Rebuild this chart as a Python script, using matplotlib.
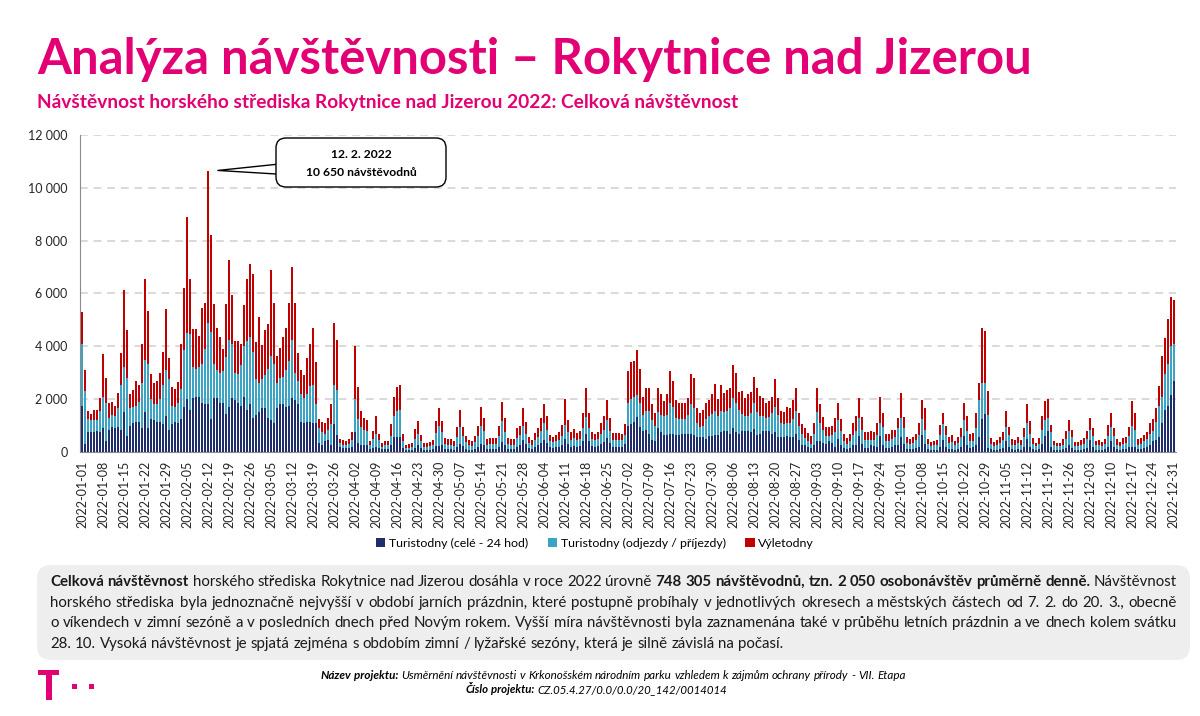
import matplotlib
matplotlib.use("Agg")
import matplotlib.pyplot as plt
import numpy as np
import pandas as pd
from matplotlib.patches import FancyBboxPatch, Rectangle
from matplotlib.ticker import FuncFormatter
from matplotlib.transforms import IdentityTransform

# denni navstevnost 2022, po mesicich: turistodny 24 h / turistodny odjezdy-prijezdy / vyletodny
d_jan = [1750,300,750,750,750,800,750,900,400,850,950,900,950,850,1500,600,1000,1100,1150,1150,900,1500,900,1250,1200,1150,1150,1050,1350,850,1050]
t_jan = [2350,2000,500,450,450,400,800,1200,1450,450,450,450,700,1700,1700,2200,650,600,600,750,1700,2000,2450,750,600,650,850,1500,1750,1900,700]
r_jan = [1200,800,300,250,400,400,500,1600,950,550,500,400,600,1200,2950,1800,550,650,950,650,1500,3050,2000,950,800,900,1000,1250,2300,800,700]

d_feb = [1150,1100,1250,1700,2000,1600,2050,2100,2100,1850,1800,1800,1250,2050,2050,1850,1850,1450,1700,2050,1950,1850,1750,2100,1600,1800,1300,1400]
t_feb = [550,750,1150,2150,2500,2850,1150,1050,1100,1500,2100,3100,3300,1300,1050,1150,1200,2150,2550,2050,1050,1100,1550,1900,2600,2550,2500,1350]
r_feb = [700,800,1700,2350,4400,2100,1450,1500,1200,2100,1750,5750,3650,2250,1600,1350,850,2000,3000,1850,1200,1250,800,1550,2350,2750,2950,1400]

d_mar = [1500,1650,1650,1300,1200,1100,1650,1800,1800,1700,1750,2050,1950,1800,1150,1100,1150,1150,1100,1100,350,250,400,450,250,1050,650,200,150,150,150]
t_mar = [1100,1100,1250,1850,2450,2250,950,1000,1050,1400,1700,2200,1050,900,1050,950,1050,1350,1450,700,550,500,300,400,800,1500,1700,150,100,100,150]
r_mar = [2500,1300,1700,1700,3250,2300,1050,1150,1500,1600,2200,2750,2650,1050,900,850,1350,1600,2150,1600,350,400,400,450,750,2350,1900,150,200,150,200]

d_apr = [200,750,350,250,250,250,100,150,200,150,100,100,100,250,550,550,550,150,70,60,70,150,280,150,70,70,80,100,230,230]
t_apr = [250,1250,900,700,600,550,150,350,500,300,100,150,150,350,800,1000,1050,250,80,110,120,330,420,250,120,120,140,170,500,760]
r_apr = [300,2000,1200,600,450,400,150,300,650,250,150,150,150,450,750,900,950,300,100,120,140,380,480,230,140,140,160,190,450,660]

d_may = [250,110,100,100,90,200,300,220,130,90,90,130,200,300,250,100,110,110,110,200,380,250,110,100,100,180,250,440,300,150,120]
t_may = [500,200,180,180,150,350,650,380,230,160,150,230,400,700,550,180,190,200,190,400,780,520,190,180,180,340,380,550,400,200,160]
r_may = [430,230,200,200,180,400,640,360,250,190,180,250,390,720,480,200,220,230,220,390,740,510,220,200,200,370,360,670,440,220,180]

d_jun = [200,250,350,450,350,180,160,180,200,270,480,320,200,230,200,220,400,670,400,210,190,210,300,370,520,350,190,190,190,190]
t_jun = [250,300,450,650,500,220,200,220,270,350,530,420,270,300,250,280,520,660,520,270,250,270,380,480,680,450,250,250,250,250]
r_jun = [280,340,500,710,520,250,220,250,290,390,990,460,290,330,280,300,570,1110,570,280,260,280,410,520,760,500,270,270,270,260]

d_jul = [290,1000,1050,1150,1330,950,800,850,700,440,400,900,750,650,650,700,700,650,650,700,700,700,700,650,550,550,550,500,600,600,650]
t_jul = [370,870,950,950,820,900,600,700,850,760,600,600,650,700,750,1170,1000,650,600,550,550,700,1100,1000,550,400,450,750,750,850,900]
r_jul = [390,1180,1390,1360,1710,1290,700,890,890,610,460,910,790,590,790,1210,1000,660,600,600,600,660,1150,1170,580,540,580,620,610,740,1020]

d_aug = [650,750,800,800,700,900,750,700,800,800,780,760,880,640,700,800,800,780,680,750,550,550,550,600,550,550,700,450,250,280,200]
t_aug = [700,800,700,750,950,1150,1100,900,650,550,600,700,970,880,650,560,500,550,780,970,850,550,500,500,550,700,850,550,450,250,200]
r_aug = [650,980,750,790,770,1250,1140,690,870,710,810,820,1000,920,780,670,540,610,640,1040,660,460,470,610,580,710,860,490,350,370,330]

d_sep = [150,250,400,400,350,300,400,350,200,500,250,150,120,150,250,250,600,300,150,150,250,220,200,600,250,150,150,200,250,250]
t_sep = [150,450,1100,700,500,300,220,300,550,700,550,250,200,250,400,550,700,550,300,300,200,250,450,500,700,250,250,300,300,650]
r_sep = [310,390,940,710,490,350,330,340,550,640,440,270,200,300,430,570,740,480,310,310,350,290,440,1000,510,270,270,320,290,380]

d_oct = [550,300,100,100,100,150,200,650,300,100,80,80,90,200,450,200,100,120,80,120,200,600,250,150,200,250,550,1250,1430,150,100]
t_oct = [750,600,250,200,250,300,450,600,550,200,150,170,170,450,600,450,230,250,170,230,350,600,550,250,200,650,1400,1350,1170,1240,200]
r_oct = [950,430,220,180,220,250,460,720,830,210,150,170,180,360,440,340,240,260,170,230,350,670,570,270,310,560,680,2080,1970,930,240]

d_nov = [80,90,100,150,400,200,100,90,100,90,200,500,200,100,70,100,300,600,800,200,80,70,70,100,150,250,150,70,70,90]
t_nov = [150,170,230,300,550,450,180,170,230,170,350,600,500,200,140,200,550,600,500,550,170,140,140,180,350,550,400,150,150,180]
r_nov = [150,180,240,310,610,300,200,180,240,180,370,710,480,220,140,220,520,740,700,280,170,140,140,200,300,400,290,160,160,190]

d_dec = [100,150,450,200,80,90,80,100,200,400,200,100,80,100,120,200,200,200,100,100,150,180,250,400,450,550,1100,1600,1750,2150,2700]
t_dec = [220,350,400,400,170,170,150,200,400,550,400,180,150,200,230,400,800,650,180,200,250,300,450,400,700,1180,1000,1350,1600,1850,1400]
r_dec = [220,300,450,320,170,180,160,210,410,520,320,200,150,220,230,360,940,620,200,240,230,280,390,440,510,780,1520,1350,1690,1860,1650]

turist_24h = d_jan + d_feb + d_mar + d_apr + d_may + d_jun + d_jul + d_aug + d_sep + d_oct + d_nov + d_dec
turist_odj = t_jan + t_feb + t_mar + t_apr + t_may + t_jun + t_jul + t_aug + t_sep + t_oct + t_nov + t_dec
vyletodny = r_jan + r_feb + r_mar + r_apr + r_may + r_jun + r_jul + r_aug + r_sep + r_oct + r_nov + r_dec
dny = pd.date_range("2022-01-01", "2022-12-31", freq="D")

serie = ["Turistodny (celé - 24 hod)", "Turistodny (odjezdy / příjezdy)", "Výletodny"]

nadpis = "Analýza návštěvnosti – Rokytnice nad Jizerou"
podnadpis = "Návštěvnost horského střediska Rokytnice nad Jizerou 2022: Celková návštěvnost"
komentar = [
    [("Celková návštěvnost", "bold"),
     ("horského střediska Rokytnice nad Jizerou dosáhla v roce 2022 úrovně", "normal"),
     ("748 305 návštěvodnů, tzn. 2 050 osobonávštěv průměrně denně.", "bold"),
     ("Návštěvnost", "normal")],
    [("horského střediska byla jednoznačně nejvyšší v období jarních prázdnin, které postupně probíhaly "
      "v jednotlivých okresech a městských částech od 7. 2. do 20. 3., obecně", "normal")],
    [("o víkendech v zimní sezóně a v posledních dnech před Novým rokem. Vyšší míra návštěvnosti byla "
      "zaznamenána také v průběhu letních prázdnin a ve dnech kolem svátku", "normal")],
    [("28. 10. Vysoká návštěvnost je spjatá zejména s obdobím zimní / lyžařské sezóny, která je silně "
      "závislá na počasí.", "normal")],
]
paticka = [
    [("Název projektu:", "bold"),
     ("Usměrnění návštěvnosti v Krkonošském národním parku vzhledem k zájmům ochrany přírody - VII. Etapa", "normal")],
    [("Číslo projektu:", "bold"), ("CZ.05.4.27/0.0/0.0/20_142/0014014", "normal")],
]

RUZOVA = "#e20074"
barvy = ["#1f2d6b", "#3ba3c3", "#c00000"]
FF = ["Lato", "DejaVu Sans"]
plt.rcParams["font.family"] = FF

W, H = 1200, 716
fig = plt.figure(figsize=(W / 100, H / 100), dpi=100)
px = IdentityTransform()
rend = fig.canvas.get_renderer()


def Y(y):
    # y mereno od horniho okraje obrazku
    return H - y


def sirka(s, **kw):
    t = fig.text(0, 0, s, transform=px, **kw)
    w = t.get_window_extent(rend).width
    t.remove()
    return w


def slova_sirky(segs, fs, style):
    slova = [(w, wt) for s, wt in segs for w in s.split()]
    sirky = [sirka(w, fontsize=fs, family=FF, weight=wt, style=style) for w, wt in slova]
    mezera = sirka("a a", fontsize=fs, family=FF, style=style) - sirka("aa", fontsize=fs, family=FF, style=style)
    return slova, sirky, mezera


def radek(segs, x0, yb, x1=None, fs=10, style="normal", color="#1a1a1a", stred=None):
    slova, sirky, mezera = slova_sirky(segs, fs, style)
    if x1 is not None:
        mezera = (x1 - x0 - sum(sirky)) / (len(slova) - 1)
    if stred is not None:
        x0 = stred - (sum(sirky) + mezera * (len(slova) - 1)) / 2
    x = x0
    for (w, wt), s in zip(slova, sirky):
        fig.text(x, Y(yb), w, fontsize=fs, family=FF, weight=wt, style=style, color=color,
                 va="baseline", transform=px)
        x += s + mezera


# nadpisy
tf = dict(family=["Liberation Sans Narrow", "Lato", "DejaVu Sans"], weight="bold", color=RUZOVA)
vel = 40
vel = min(vel, vel * 993 / sirka(nadpis, fontsize=vel, **tf))
fig.text(37, Y(74), nadpis, fontsize=vel, va="baseline", transform=px, **tf)
fig.text(37, Y(108), podnadpis, fontsize=13.8, weight="bold", color=RUZOVA, va="baseline", transform=px)

# graf
ax = fig.add_axes([80 / W, 1 - 452 / H, 1096 / W, 317 / H])
x = np.arange(len(dny))
spodek = np.zeros(len(dny))
for hodnoty, barva, nazev in zip([turist_24h, turist_odj, vyletodny], barvy, serie):
    ax.bar(x, hodnoty, bottom=spodek, width=0.62, color=barva, linewidth=0, label=nazev)
    spodek = spodek + np.array(hodnoty)

ax.set_xlim(-0.7, len(x) - 0.3)
ax.set_ylim(0, 12000)
ax.set_yticks(range(0, 12001, 2000))
ax.yaxis.set_major_formatter(FuncFormatter(lambda v, p: f"{int(v):,}".replace(",", " ")))
ax.set_xticks(x[::7])
ax.set_xticklabels(dny[::7].strftime("%Y-%m-%d"), rotation=90)
ax.tick_params(axis="x", length=0, pad=6, labelsize=9, labelcolor="#262626")
ax.tick_params(axis="y", length=0, pad=9, labelsize=9, labelcolor="#262626")
ax.grid(axis="y", ls=(0, (4, 3)), color="#d9d9d9", lw=1.4)
ax.set_axisbelow(True)
for s in ("top", "right"):
    ax.spines[s].set_visible(False)
for s in ("left", "bottom"):
    ax.spines[s].set_color("#8c8c8c")

fig.legend(loc="center", bbox_to_anchor=(595 / W, 1 - 543 / H), ncol=3, frameon=False, fontsize=8.9,
           handlelength=0.75, handleheight=0.75, handletextpad=0.3, columnspacing=1.6)

# bublina u maxima
imax = int(np.argmax(spodek))
ax.annotate("", xy=(imax, spodek[imax]), xycoords="data", xytext=(285, Y(169)), textcoords="figure pixels",
            annotation_clip=False,
            arrowprops=dict(arrowstyle="wedge,tail_width=0.8,shrink_factor=0.5", fc="white", ec="black",
                            lw=1, shrinkA=0, shrinkB=7, mutation_scale=10))
fig.add_artist(FancyBboxPatch((276, Y(187)), 170, 49, boxstyle="round,pad=0,rounding_size=10",
                              transform=px, fc="white", ec="black", lw=1, zorder=5))
den = dny[imax]
fig.text(361, Y(155), f"{den.day}. {den.month}. {den.year}", fontsize=8.7, weight="bold",
         ha="center", va="center", transform=px, zorder=6)
fig.text(361, Y(172), f"{int(spodek[imax]):,} návštěvodnů".replace(",", " "), fontsize=8.7, weight="bold",
         ha="center", va="center", transform=px, zorder=6)

# komentar v sedem ramecku
fig.add_artist(FancyBboxPatch((37, Y(660)), 1153, 95, boxstyle="round,pad=0,rounding_size=14",
                              transform=px, fc="#eeeeee", ec="none", zorder=0))
for i, segs in enumerate(komentar):
    radek(segs, 50, 586 + i * 20.7, x1=1177 if i < 3 else None, fs=10.8)

# paticka
radek(paticka[0], 0, 679, fs=8.4, style="italic", color="black", stred=613)
radek(paticka[1], 0, 693, fs=8.2, style="italic", color="black", stred=596)

# logo
for (lx, ly, lw_, lh) in [(38, 670, 21, 5), (45.5, 670, 6, 30), (72, 684, 5, 5), (89, 684, 5, 5)]:
    fig.add_artist(Rectangle((lx, Y(ly + lh)), lw_, lh, transform=px, fc=RUZOVA, ec="none"))

fig.savefig("out.png", dpi=100)
